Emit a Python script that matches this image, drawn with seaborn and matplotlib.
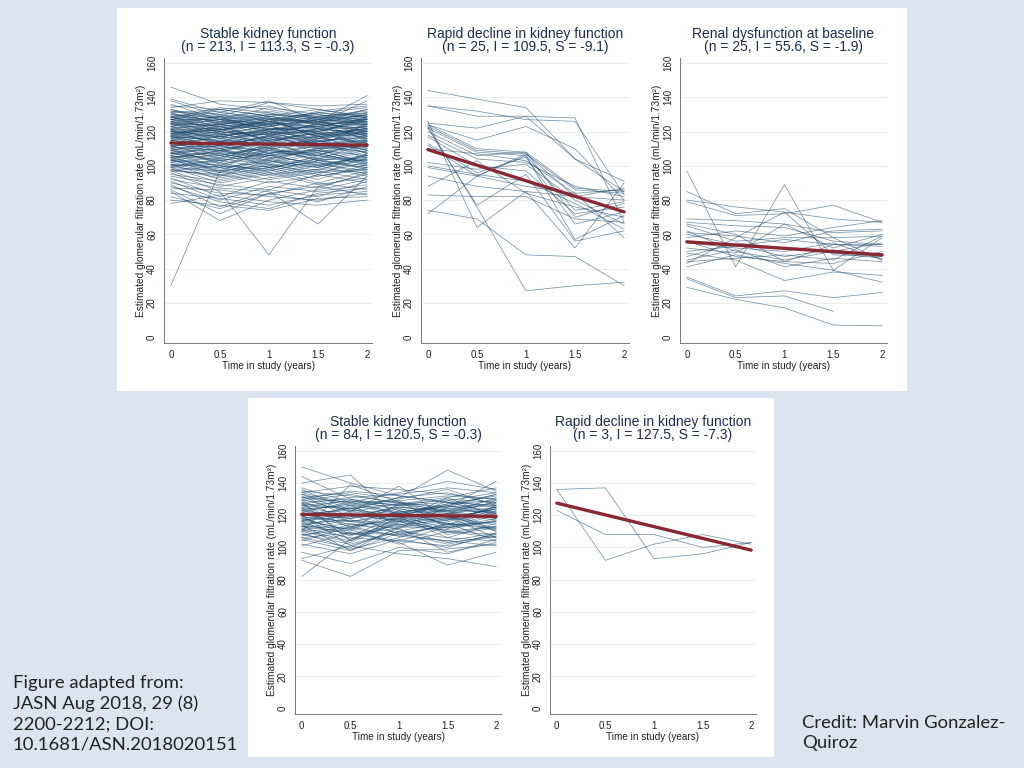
import numpy as np
import pandas as pd
import seaborn as sns
import matplotlib.pyplot as plt
from matplotlib.patches import Rectangle

sns.set_style("white")
plt.rcParams['font.family'] = ['Liberation Sans', 'DejaVu Sans']

times = [0, 0.5, 1, 1.5, 2]

# eGFR per participant at 0, 0.5, 1, 1.5, 2 years
stable_2016 = [
    [30, 97, 100, 94, 98], [146, 136, 133, 128, 131], [139, 131, 138, 126, 141],
    [138, 129, 137, 135, 136], [136, 127, 124, 131, 134], [135, 133, 129, 125, 138],
    [134, 138, 137, 133, 128], [133, 124, 128, 122, 130], [132, 128, 121, 127, 126],
    [131, 122, 126, 119, 129], [130, 126, 131, 124, 122], [129, 119, 123, 128, 127],
    [128, 125, 118, 121, 125], [127, 121, 127, 117, 123], [127, 130, 124, 126, 119],
    [126, 118, 121, 123, 128], [125, 123, 115, 119, 121], [125, 116, 125, 127, 117],
    [124, 127, 119, 114, 124], [123, 114, 122, 120, 126], [123, 120, 117, 125, 115],
    [122, 124, 128, 116, 120], [121, 112, 120, 118, 122], [121, 119, 113, 122, 118],
    [120, 121, 124, 111, 125], [120, 113, 116, 119, 113], [119, 117, 121, 123, 116],
    [118, 110, 118, 113, 121], [118, 122, 111, 116, 119], [117, 115, 119, 120, 111],
    [117, 108, 114, 110, 117], [116, 118, 120, 112, 114], [115, 111, 109, 117, 120],
    [115, 120, 116, 108, 112], [114, 106, 112, 115, 109], [114, 112, 117, 111, 118],
    [113, 117, 107, 113, 110], [112, 104, 113, 106, 115], [112, 114, 110, 118, 107],
    [111, 109, 115, 104, 113], [110, 101, 106, 112, 108], [110, 113, 108, 109, 116],
    [109, 105, 111, 103, 106], [108, 110, 104, 110, 112], [108, 99, 109, 107, 102],
    [107, 107, 102, 111, 108], [106, 103, 107, 100, 104], [106, 96, 100, 105, 110],
    [105, 108, 105, 102, 99], [104, 100, 98, 106, 103], [104, 94, 103, 99, 107],
    [103, 102, 96, 101, 97], [102, 97, 101, 95, 105], [101, 92, 97, 103, 100],
    [101, 99, 94, 98, 96], [100, 95, 99, 92, 101], [99, 90, 95, 100, 94],
    [99, 97, 92, 96, 98], [98, 93, 98, 90, 97], [97, 88, 93, 97, 92],
    [97, 95, 90, 94, 99], [96, 85, 48, 88, 95], [95, 91, 96, 89, 93],
    [94, 89, 86, 95, 90], [93, 82, 91, 87, 96], [92, 87, 85, 66, 94],
    [91, 80, 88, 85, 89], [90, 84, 83, 90, 86], [89, 76, 86, 82, 91],
    [88, 79, 75, 84, 87], [87, 86, 82, 80, 84], [86, 72, 84, 88, 83],
    [85, 68, 80, 86, 92], [84, 81, 77, 83, 85], [82, 75, 84, 79, 88],
    [80, 77, 74, 81, 82], [78, 83, 79, 77, 80], [131, 125, 130, 129, 132],
    [129, 132, 126, 130, 127], [127, 124, 129, 125, 130], [126, 129, 123, 127, 124],
    [124, 121, 126, 128, 129], [122, 126, 122, 118, 124], [121, 116, 119, 124, 126],
    [119, 123, 125, 121, 120], [118, 114, 115, 117, 122], [116, 120, 118, 122, 118],
    [115, 110, 113, 114, 119], [113, 116, 120, 116, 114], [111, 107, 110, 113, 111],
    [109, 112, 106, 108, 114], [107, 104, 108, 106, 101], [105, 109, 103, 99, 106],
    [103, 98, 104, 109, 102], [100, 103, 99, 104, 98], [128, 134, 131, 126, 120],
    [133, 127, 134, 130, 125], [125, 128, 121, 124, 131], [120, 118, 127, 126, 123],
    [117, 124, 114, 120, 127], [132, 130, 127, 131, 128], [130, 128, 132, 127, 133],
    [129, 126, 124, 129, 131], [128, 131, 128, 124, 127], [127, 127, 130, 128, 124],
    [126, 123, 127, 131, 129], [125, 129, 126, 122, 126], [124, 124, 121, 126, 130],
    [123, 127, 125, 123, 121], [122, 119, 123, 127, 125], [121, 125, 129, 124, 122],
    [120, 117, 122, 120, 128], [119, 121, 118, 125, 124], [118, 125, 123, 119, 117],
    [117, 112, 117, 121, 123], [116, 123, 114, 118, 120], [115, 117, 121, 115, 116],
    [114, 109, 115, 119, 121], [113, 119, 112, 114, 118], [112, 111, 118, 110, 113],
    [111, 115, 113, 117, 109], [110, 106, 111, 114, 117], [109, 114, 117, 111, 112],
    [108, 103, 107, 112, 115], [107, 112, 105, 109, 106], [106, 100, 110, 103, 108],
    [105, 106, 101, 107, 111], [104, 109, 106, 101, 105], [103, 99, 102, 108, 100],
    [102, 105, 109, 104, 103], [101, 96, 104, 100, 106], [100, 101, 97, 103, 99],
    [99, 104, 101, 96, 102], [98, 94, 99, 102, 95], [97, 100, 95, 98, 104],
    [131, 133, 135, 128, 126], [129, 121, 125, 132, 135], [127, 133, 129, 133, 129],
    [125, 120, 128, 125, 133], [123, 129, 119, 129, 127], [121, 122, 126, 117, 119],
    [119, 114, 120, 123, 127], [117, 121, 124, 113, 115], [115, 113, 107, 116, 122],
    [113, 108, 116, 122, 111], [111, 118, 110, 106, 114], [109, 102, 112, 115, 104],
    [107, 110, 99, 104, 109], [105, 97, 106, 110, 101], [103, 107, 103, 97, 107],
]

rapid_2016 = [
    [144, 139, 134, 104, 91], [135, 129, 129, 128, 67], [135, 132, 127, 126, 83],
    [125, 122, 129, 104, 85], [124, 115, 123, 110, 80], [124, 110, 108, 87, 85],
    [123, 109, 107, 86, 84], [122, 108, 106, 74, 79], [120, 106, 108, 70, 78],
    [118, 104, 102, 88, 82], [117, 100, 97, 72, 76], [113, 96, 105, 66, 73],
    [112, 94, 106, 57, 71], [126, 64, 85, 52, 90], [122, 77, 95, 56, 62],
    [102, 98, 101, 80, 66], [100, 95, 91, 78, 63], [99, 94, 88, 84, 58],
    [94, 88, 85, 82, 80], [88, 103, 84, 76, 70], [83, 82, 82, 69, 67],
    [74, 69, 48, 47, 30], [72, 94, 107, 82, 87], [123, 76, 27, 30, 32],
    [110, 107, 103, 84, 86],
]

renal_2016 = [
    [97, 41, 89, 39, 58], [85, 72, 75, 58, 45], [80, 76, 73, 69, 67],
    [79, 71, 72, 77, 67], [69, 68, 66, 61, 62], [67, 65, 64, 56, 54],
    [65, 56, 58, 58, 59], [62, 50, 45, 50, 55], [61, 59, 55, 62, 63],
    [60, 54, 47, 51, 47], [56, 47, 44, 43, 50], [55, 52, 50, 55, 45],
    [52, 49, 66, 52, 60], [50, 53, 57, 54, 53], [49, 45, 33, 38, 36],
    [47, 55, 52, 49, 46], [45, 51, 41, 46, 44], [44, 46, 48, 45, 59],
    [43, 58, 73, 48, 47], [41, 48, 43, 39, 32], [66, 60, 44, 54, 54],
    [35, 24, 27, 23, 26], [34, 23, 24, 15, np.nan], [29, 22, 17, 7, 6.5],
    [58, 62, 59, 64, 68],
]

stable_2017 = [
    [82, 105, 118, 124, 121], [150, 140, 132, 128, 126], [144, 130, 126, 119, 112],
    [140, 145, 118, 110, 108], [137, 128, 134, 141, 136], [136, 123, 131, 148, 135],
    [135, 132, 128, 125, 141], [134, 138, 136, 133, 130], [133, 126, 121, 127, 132],
    [132, 119, 125, 122, 128], [131, 134, 130, 136, 126], [130, 122, 138, 118, 124],
    [129, 116, 120, 126, 133], [128, 130, 123, 114, 122], [127, 112, 127, 123, 118],
    [126, 124, 116, 129, 125], [125, 120, 119, 121, 131], [124, 108, 114, 117, 120],
    [123, 127, 129, 112, 116], [122, 114, 112, 125, 127], [121, 118, 124, 119, 114],
    [120, 101, 110, 116, 123], [119, 125, 117, 131, 119], [118, 110, 122, 108, 112],
    [117, 121, 108, 114, 126], [116, 105, 115, 120, 110], [115, 117, 111, 103, 107],
    [114, 98, 113, 111, 117], [113, 112, 119, 106, 115], [112, 106, 104, 113, 121],
    [111, 115, 109, 102, 108], [110, 103, 116, 109, 113], [109, 99, 106, 115, 104],
    [108, 111, 102, 110, 106], [106, 100, 112, 97, 103], [104, 113, 107, 104, 101],
    [102, 96, 105, 100, 109], [101, 109, 103, 89, 97], [97, 90, 100, 96, 105],
    [93, 101, 96, 93, 88], [92, 82, 98, 99, 102], [110, 139, 128, 122, 118],
    [127, 131, 133, 137, 134], [125, 129, 126, 130, 128], [121, 123, 121, 127, 129],
    [117, 119, 125, 123, 122], [113, 121, 116, 118, 124], [119, 107, 120, 115, 111],
    [124, 116, 122, 126, 119], [116, 126, 114, 112, 120], [128, 104, 117, 121, 125],
    [133, 122, 127, 131, 137], [131, 128, 129, 132, 130], [129, 133, 127, 129, 134],
    [127, 124, 131, 134, 127], [126, 129, 124, 120, 129], [124, 126, 128, 124, 126],
    [123, 118, 126, 128, 122], [122, 128, 121, 117, 125], [121, 113, 118, 123, 130],
    [120, 124, 127, 121, 117], [119, 116, 113, 118, 124], [118, 122, 120, 126, 121],
    [117, 111, 123, 114, 116], [116, 120, 117, 110, 113], [115, 108, 112, 117, 125],
    [114, 118, 121, 123, 110], [113, 109, 108, 104, 109], [112, 117, 114, 119, 106],
    [111, 104, 119, 112, 118], [110, 112, 107, 115, 112], [108, 102, 110, 106, 104],
    [107, 114, 116, 121, 119], [106, 109, 104, 101, 107], [105, 98, 109, 113, 116],
    [134, 127, 122, 125, 133], [130, 135, 132, 128, 121],
]

rapid_2017 = [
    [136, 137, 93, 96, 103], [136, 92, 102, 108, 102], [123, 108, 108, 100, 103],
]

group_names = ["Stable kidney function", "Rapid decline in kidney function",
               "Renal dysfunction at baseline", "Stable kidney function",
               "Rapid decline in kidney function"]
group_n = [213, 25, 25, 84, 3]
intercepts = [113.3, 109.5, 55.6, 120.5, 127.5]
slopes = [-0.3, -9.1, -1.9, -0.3, -7.3]  # per 6-month visit
groups = [stable_2016, rapid_2016, renal_2016, stable_2017, rapid_2017]

bg = "#dbe4f0"
line_col = "#1c4a70"
mean_col = "#8a2832"
title_col = "#1c2e4c"

fig = plt.figure(figsize=(10.24, 7.68), dpi=100)
fig.patch.set_facecolor(bg)

# white slide panels, kept behind the axes
fig.patches.append(Rectangle((117 / 1024, 1 - 391 / 768), 790 / 1024, 383 / 768,
                             transform=fig.transFigure, facecolor="white",
                             edgecolor="none", zorder=-5))
fig.patches.append(Rectangle((248 / 1024, 1 - 757 / 768), 526 / 1024, 359 / 768,
                             transform=fig.transFigure, facecolor="white",
                             edgecolor="none", zorder=-5))

positions = [
    [164 / 1024, 425 / 768, 208 / 1024, 285 / 768],
    [421 / 1024, 425 / 768, 208 / 1024, 285 / 768],
    [680 / 1024, 425 / 768, 207 / 1024, 285 / 768],
    [295 / 1024, 54 / 768, 206 / 1024, 268 / 768],
    [550 / 1024, 54 / 768, 206 / 1024, 268 / 768],
]

for i, rows in enumerate(groups):
    ax = fig.add_axes(positions[i])
    ax.set_facecolor("white")

    long = pd.DataFrame(rows, columns=times)
    long["id"] = range(len(rows))
    long = long.melt(id_vars="id", var_name="time", value_name="egfr").dropna()
    long["time"] = long["time"].astype(float)

    sns.lineplot(data=long, x="time", y="egfr", units="id", estimator=None,
                 color=line_col, lw=0.55, alpha=0.6, ax=ax, zorder=2)

    fit = pd.DataFrame({"time": [0, 2]})
    fit["egfr"] = intercepts[i] + slopes[i] * fit["time"] / 0.5
    sns.lineplot(data=fit, x="time", y="egfr", color=mean_col, lw=2.4, ax=ax, zorder=3)

    ax.set_xlim(-0.07, 2.05)
    ax.set_ylim(-3.5, 163)
    ax.set_xticks(times)
    ax.set_xticklabels(["0", "0.5", "1", "1.5", "2"])
    ax.set_yticks(range(0, 161, 20))
    ax.tick_params(axis="both", labelsize=7, length=3, width=0.6, color="#777777",
                   pad=2, labelcolor="#222222", direction="out")
    ax.tick_params(axis="y", labelrotation=90)
    for lab in ax.get_yticklabels():
        lab.set_va("center")
    ax.grid(axis="y", color="#eeeeee", lw=0.7, zorder=0)
    ax.yaxis.get_gridlines()[0].set_visible(False)
    for side in ["top", "right"]:
        ax.spines[side].set_visible(False)
    for side in ["left", "bottom"]:
        ax.spines[side].set_color("#777777")
        ax.spines[side].set_linewidth(0.7)

    ax.set_xlabel("Time in study (years)", fontsize=7.2, color="#222222", labelpad=1)
    ax.set_ylabel("Estimated glomerular filtration rate (mL/min/1.73m²)",
                  fontsize=7.3, color="#222222", labelpad=0.5)
    ax.set_title(f"{group_names[i]}\n(n = {group_n[i]}, I = {intercepts[i]}, S = {slopes[i]})",
                 fontsize=10, color=title_col, linespacing=0.95, pad=5)

fig.text(13 / 1024, 1 - 675 / 768,
         "Figure adapted from:\nJASN Aug 2018, 29 (8)\n2200-2212; DOI:\n10.1681/ASN.2018020151",
         fontsize=13.3, family=["Lato", "DejaVu Sans"], color="#222222",
         va="top", ha="left", linespacing=1.33)
fig.text(802 / 1024, 1 - 715 / 768, "Credit: Marvin Gonzalez-\nQuiroz",
         fontsize=13.3, family=["Lato", "DejaVu Sans"], color="#222222",
         va="top", ha="left", linespacing=1.33)

fig.savefig("out.png", dpi=100, facecolor=fig.get_facecolor())
plt.close(fig)
